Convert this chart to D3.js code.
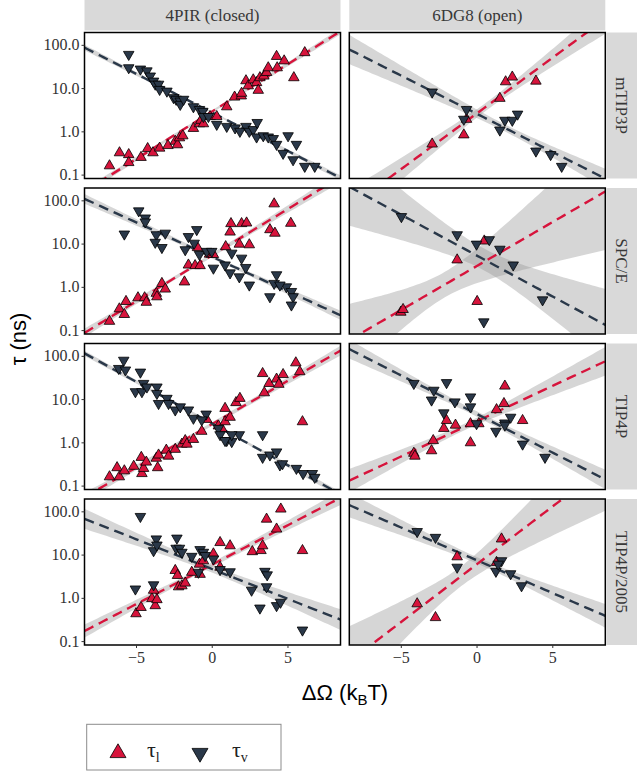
<!DOCTYPE html>
<html><head><meta charset="utf-8">
<script src="https://cdn.jsdelivr.net/npm/d3@7"></script>
<style>body{margin:0;background:#fff}</style>
</head><body>
<svg id="c" width="637" height="771"></svg>
<script>
// ---------------- data ----------------
const structures = ["4PIR (closed)", "6DG8 (open)"];
const models = ["mTIP3P", "SPC/E", "TIP4P", "TIP4P/2005"];
const yTickValues = [0.1, 1, 10, 100];
const yTickLabels = ["0.1", "1.0", "10.0", "100.0"];
const xTickValues = [-5, 0, 5];
const seriesNames = ["τ_l", "τ_v"];

// [ΔΩ (kBT), τ (ns)]
const closed_mTIP3P_tau1 = [[-6.75,0.16],[-6.09,0.32],[-5.48,0.29],[-5.48,0.19],[-4.67,0.25],[-4.23,0.40],[-3.88,0.32],[-3.44,0.41],[-2.89,0.47],[-2.41,0.59],[-2.26,0.49],[-2.13,0.71],[-1.91,0.79],[-1.21,1.17],[-0.81,1.5],[-0.72,1.8],[-0.55,1.5],[-0.11,2.2],[0.33,2.2],[0.99,3.7],[1.51,6.2],[1.95,6.6],[1.97,7.6],[2.26,14.8],[2.41,11.3],[2.74,15.5],[2.96,13.4],[3.07,8.9],[3.18,17.4],[3.44,19],[3.62,23],[3.73,29.5],[4.28,54],[4.32,29.5],[4.78,42.6],[5.42,17.4],[6.14,66]];
const closed_mTIP3P_tauv = [[-5.48,60],[-5.48,29.5],[-4.71,27.5],[-4.28,25],[-4.06,19],[-3.84,14.5],[-3.73,12.3],[-3.51,12.3],[-3.44,9.3],[-2.96,8.5],[-2.52,6],[-2.35,5.5],[-2.08,5],[-2.08,4.2],[-1.86,5.5],[-1.21,3.7],[-0.81,3.2],[-0.59,2.9],[-0.55,2.2],[-0.22,2.2],[0.33,1.45],[0.99,1.3],[1.54,1.2],[1.86,1.0],[2.26,1.3],[2.48,1.0],[2.74,1.1],[3.0,1.6],[2.96,0.74],[3.40,0.79],[3.73,0.74],[4.06,0.68],[4.28,0.50],[4.71,0.31],[5.04,0.79],[5.59,0.50],[5.37,0.22],[6.14,0.155],[6.80,0.155]];
const open_mTIP3P_tau1 = [[-2.93,0.51],[-0.84,0.83],[-0.66,1.9],[1.54,5.8],[1.92,14],[2.36,18],[3.92,14.5]];
const open_mTIP3P_tauv = [[-2.93,8.1],[-0.66,3.2],[-0.84,1.9],[1.54,1.07],[1.87,1.8],[2.36,1.8],[2.71,2.5],[3.92,0.35],[4.89,0.29],[5.62,0.155]];

const closed_SPCE_tau1 = [[-6.75,0.16],[-6.10,0.31],[-5.77,0.23],[-5.66,0.46],[-4.87,0.56],[-4.43,0.56],[-4.32,0.44],[-3.66,0.71],[-3.62,0.59],[-3.29,1.2],[-3.07,0.89],[-1.80,1.3],[-1.54,3.2],[-1.10,3.1],[-0.94,8.1],[-0.77,3.1],[-0.15,5.7],[0.11,5.6],[0.92,8.5],[1.21,18.5],[1.27,29],[1.82,9.7],[1.97,29],[2.30,30],[2.48,9.4],[3.84,21],[4.12,83],[4.17,17.4],[5.22,29.5]];
const closed_SPCE_tauv = [[-5.77,16.6],[-4.82,57],[-4.39,39],[-4.39,31.6],[-3.66,16],[-3.73,10.7],[-3.29,8.1],[-3.07,17.4],[-1.75,7.2],[-1.54,14.5],[-0.99,21],[-1.16,10.2],[-0.81,5.6],[-0.33,6.6],[0.0,6.6],[0.11,2.7],[0.88,3.2],[1.32,6],[1.21,2.1],[1.82,1.7],[1.97,4.6],[2.24,2.8],[2.48,1.1],[3.84,0.59],[4.12,1.2],[4.28,1.9],[4.93,1.0],[5.26,0.78],[5.37,0.59],[5.26,0.38],[4.5,1.1]];
const open_SPCE_tau1 = [[-5.0,0.26],[-4.85,0.30],[-1.28,4.2],[0.04,0.46],[0.51,11.5]];
const open_SPCE_tauv = [[-4.96,42],[-1.28,16],[0.0,9.7],[0.84,12.3],[1.54,7.4],[2.42,3.2],[4.36,0.50],[0.48,0.155]];

const closed_TIP4P_tau1 = [[-6.75,0.16],[-6.25,0.26],[-6.10,0.16],[-5.77,0.22],[-5.15,0.28],[-4.65,0.45],[-4.61,0.19],[-4.50,0.25],[-4.32,0.35],[-3.66,0.43],[-3.57,0.26],[-3.51,0.51],[-3.00,0.66],[-2.85,0.48],[-2.41,0.69],[-1.97,0.91],[-1.75,1.1],[-1.64,0.91],[-1.21,1.17],[-0.66,1.8],[-0.33,3.4],[0.44,2.4],[0.66,2.1],[0.88,6.1],[0.88,3.0],[1.21,3.8],[1.60,8.3],[1.86,10.4],[3.36,39],[3.47,14],[3.79,23],[4.28,29],[4.43,22],[4.71,37],[5.55,69],[5.81,43],[5.99,3.0]];
const closed_TIP4P_tauv = [[-6.14,51],[-5.81,79],[-5.70,47],[-4.71,42],[-5.04,14.8],[-4.61,14.8],[-4.50,23],[-4.28,19],[-3.62,19],[-3.62,13.5],[-3.51,7.9],[-2.96,10.4],[-2.85,7.9],[-2.41,5.6],[-2.08,6.6],[-1.54,5.6],[-1.21,3.6],[-0.37,4.5],[-0.66,3.3],[0.44,2.1],[0.55,1.5],[0.99,1.1],[1.32,1.04],[1.82,1.5],[1.32,1.5],[3.36,1.5],[3.36,0.45],[3.84,0.51],[4.28,0.60],[4.50,0.30],[4.67,0.32],[5.59,0.25],[6.03,0.19],[6.64,0.19],[6.80,0.155],[0.88,1.1]];
const open_TIP4P_tau1 = [[-4.14,0.56],[-4.07,0.48],[-2.97,0.64],[-2.86,1.1],[-2.16,2.1],[-1.98,3.2],[-1.39,2.5],[-0.40,2.7],[-0.40,0.98],[0.15,2.7],[1.32,5.7],[1.81,7.9],[1.87,20],[3.04,3.2]];
const open_TIP4P_tauv = [[-4.14,23],[-2.82,16],[-2.97,9.5],[-1.98,24],[-1.43,8.6],[-2.16,4.8],[-0.40,11.2],[-0.40,6.6],[0.0,2.7],[1.28,1.8],[1.87,2.8],[2.25,3.8],[1.87,2.5],[3.04,0.91],[4.52,0.45]];

const closed_TIP4P2005_tau1 = [[-5.0,0.43],[-4.67,0.60],[-3.95,0.96],[-3.84,1.5],[-3.73,0.66],[-3.62,0.91],[-2.41,4.3],[-2.26,3.3],[-2.19,1.8],[-1.97,1.9],[-1.75,2.2],[-1.32,3.9],[-0.81,6.0],[-0.77,3.5],[-0.55,7.2],[0.11,10.4],[0.55,5.1],[0.55,19],[1.21,16],[2.68,11.7],[3.25,12.4],[3.36,16],[3.62,66],[4.28,39],[4.56,113],[5.99,12.4]];
const closed_TIP4P2005_tauv = [[-4.71,76],[-5.04,1.6],[-3.84,2.0],[-3.84,12.3],[-3.66,23],[-3.62,16.6],[-2.30,24],[-2.35,14],[-2.13,14],[-1.97,11.3],[-1.32,9.1],[-0.77,13],[-0.55,11.3],[-0.44,9.5],[-0.88,3.9],[0.11,7.9],[0.55,4.5],[1.21,4.0],[2.63,1.5],[3.18,0.58],[3.51,4.1],[3.66,3.4],[3.62,1.8],[4.28,0.66],[4.54,0.79],[5.99,0.18]];
const open_TIP4P2005_tau1 = [[-3.92,0.73],[-2.71,0.35],[-1.28,8.9],[1.32,6.6],[1.65,23]];
const open_TIP4P2005_tauv = [[-3.92,34],[-2.71,25],[-1.28,5.1],[1.28,4.1],[1.65,7.2],[2.25,3.6],[2.97,1.9],[1.43,6.0]];

const panelData = [
  [[closed_mTIP3P_tau1, closed_mTIP3P_tauv], [open_mTIP3P_tau1, open_mTIP3P_tauv]],
  [[closed_SPCE_tau1, closed_SPCE_tauv], [open_SPCE_tau1, open_SPCE_tauv]],
  [[closed_TIP4P_tau1, closed_TIP4P_tauv], [open_TIP4P_tau1, open_TIP4P_tauv]],
  [[closed_TIP4P2005_tau1, closed_TIP4P2005_tauv], [open_TIP4P2005_tau1, open_TIP4P2005_tauv]]
];

// ---------------- layout / style ----------------
const colX = [84.5, 349.3];
const rowY = [32.5, 188, 343.5, 499];
const PW = 256, PH = 146;
const colors = ["#D7143C", "#2A3849"];
const serif = "'Liberation Serif', 'Times New Roman', serif";
const sans = "'Liberation Sans', Arial, sans-serif";

const svg = d3.select("#c");
const x = d3.scaleLinear().domain([-8.4, 8.5]).range([0, PW]);
const y = d3.scaleLog().domain([Math.pow(10, -1.09), Math.pow(10, 2.285)]).range([PH, 0]);

// band half-width multiplier (approx. one standard error band)
function mult(df){ return 1 + 0.3/df; }

function fit(pts){
  const n = pts.length;
  const xs = pts.map(p => p[0]), ys = pts.map(p => Math.log10(p[1]));
  const mx = d3.mean(xs), my = d3.mean(ys);
  let sxx = 0, sxy = 0;
  for (let i = 0; i < n; i++){ sxx += (xs[i]-mx)**2; sxy += (xs[i]-mx)*(ys[i]-my); }
  const b = sxy / sxx, a = my - b*mx;
  let sse = 0; for (let i = 0; i < n; i++) sse += (ys[i] - a - b*xs[i])**2;
  const s = Math.sqrt(sse/(n-2));
  const t = mult(n-2);
  const grid = d3.range(0, 81).map(i => -8.4 + i*(16.9/80));
  return grid.map(gx => {
    const f = a + b*gx;
    const se = s*Math.sqrt(1/n + (gx-mx)**2/sxx);
    return {x: gx, f: Math.pow(10, f), lo: Math.pow(10, f - t*se), hi: Math.pow(10, f + t*se)};
  });
}

const defs = svg.append("defs");

// top strips
structures.forEach((s, c) => {
  svg.append("rect").attr("x", colX[c]).attr("y", 0).attr("width", PW).attr("height", 30.5).attr("fill", "#d9d9d9");
  svg.append("text").attr("x", colX[c] + PW/2).attr("y", 21).attr("text-anchor", "middle")
    .attr("font-family", serif).attr("font-size", 17).attr("fill", "#383838").text(s);
});
// right strips
models.forEach((m, r) => {
  svg.append("rect").attr("x", 606.5).attr("y", rowY[r]).attr("width", 30.5).attr("height", PH).attr("fill", "#d9d9d9");
  svg.append("text").attr("transform", `translate(${616},${rowY[r] + PH/2}) rotate(90)`)
    .attr("text-anchor", "middle").attr("font-family", serif).attr("font-size", 17).attr("fill", "#383838").text(m);
});

const area = d3.area().x(d => x(d.x)).y0(d => y(d.lo)).y1(d => y(d.hi));
const line = d3.line().x(d => x(d.x)).y(d => y(d.f));

panelData.forEach((row, r) => {
  row.forEach((series, c) => {
    const g = svg.append("g").attr("transform", `translate(${colX[c]},${rowY[r]})`);
    const cid = `clip${r}${c}`;
    defs.append("clipPath").attr("id", cid).append("rect").attr("width", PW).attr("height", PH);
    g.append("rect").attr("width", PW).attr("height", PH).attr("fill", "#fff");
    const inner = g.append("g").attr("clip-path", `url(#${cid})`);
    const fits = series.map(fit);
    fits.forEach(f => inner.append("path").attr("d", area(f)).attr("fill", "#999").attr("fill-opacity", 0.4));
    fits.forEach((f, k) => inner.append("path").attr("d", line(f)).attr("fill", "none")
      .attr("stroke", colors[k]).attr("stroke-width", 2.4).attr("stroke-dasharray", "10,6"));
    series.forEach((pts, k) => {
      inner.selectAll(null).data(pts).enter().append("path")
        .attr("d", d3.symbol(d3.symbolTriangle, 48)())
        .attr("transform", d => `translate(${x(d[0])},${y(d[1])})` + (k === 1 ? " rotate(180)" : ""))
        .attr("fill", colors[k]).attr("stroke", "#000").attr("stroke-width", 0.8);
    });
    g.append("rect").attr("width", PW).attr("height", PH).attr("fill", "none").attr("stroke", "#000").attr("stroke-width", 1.5);

    if (c === 0) {
      const ax = g.append("g").call(d3.axisLeft(y).tickValues(yTickValues)
        .tickFormat((d, i) => yTickLabels[i]).tickSize(3).tickPadding(2));
      ax.select(".domain").remove();
      ax.selectAll("line").attr("stroke", "#333");
      ax.selectAll("text").attr("font-family", serif).attr("font-size", 16).attr("fill", "#333");
    }
    if (r === 3) {
      const ax = g.append("g").attr("transform", `translate(0,${PH})`)
        .call(d3.axisBottom(x).tickValues(xTickValues).tickFormat(d3.format("d")).tickSize(3).tickPadding(4));
      ax.select(".domain").remove();
      ax.selectAll("line").attr("stroke", "#333");
      ax.selectAll("text").attr("font-family", serif).attr("font-size", 16).attr("fill", "#333");
    }
  });
});

// axis titles
svg.append("text").attr("transform", "translate(26,339) rotate(-90)").attr("text-anchor", "middle")
  .attr("font-family", sans).attr("font-size", 22).attr("fill", "#000").text("τ (ns)");
const xt = svg.append("text").attr("x", 345).attr("y", 700).attr("text-anchor", "middle")
  .attr("font-family", sans).attr("font-size", 22).attr("fill", "#000");
xt.append("tspan").text("ΔΩ (k");
xt.append("tspan").attr("font-size", 15).attr("dy", 5).text("B");
xt.append("tspan").attr("dy", -5).text("T)");

// legend
const lg = svg.append("g");
lg.append("rect").attr("x", 86.7).attr("y", 724.3).attr("width", 194.3).attr("height", 45.7)
  .attr("fill", "#fff").attr("stroke", "#8c8c8c").attr("stroke-width", 1);
const legItems = [{cx: 118, tx: 147}, {cx: 200, tx: 232}];
legItems.forEach((it, k) => {
  lg.append("path").attr("d", d3.symbol(d3.symbolTriangle, 110)())
    .attr("transform", `translate(${it.cx},${753}) ` + (k === 1 ? "rotate(180)" : ""))
    .attr("fill", colors[k]).attr("stroke", "#000").attr("stroke-width", 0.8);
  const t = lg.append("text").attr("x", it.tx).attr("y", 757).attr("font-family", serif).attr("font-size", 22).attr("fill", "#222");
  const parts = seriesNames[k].split("_");
  t.append("tspan").text(parts[0]);
  t.append("tspan").attr("font-size", 14).attr("dy", 5).text(parts[1]);
});
</script>
</body></html>
